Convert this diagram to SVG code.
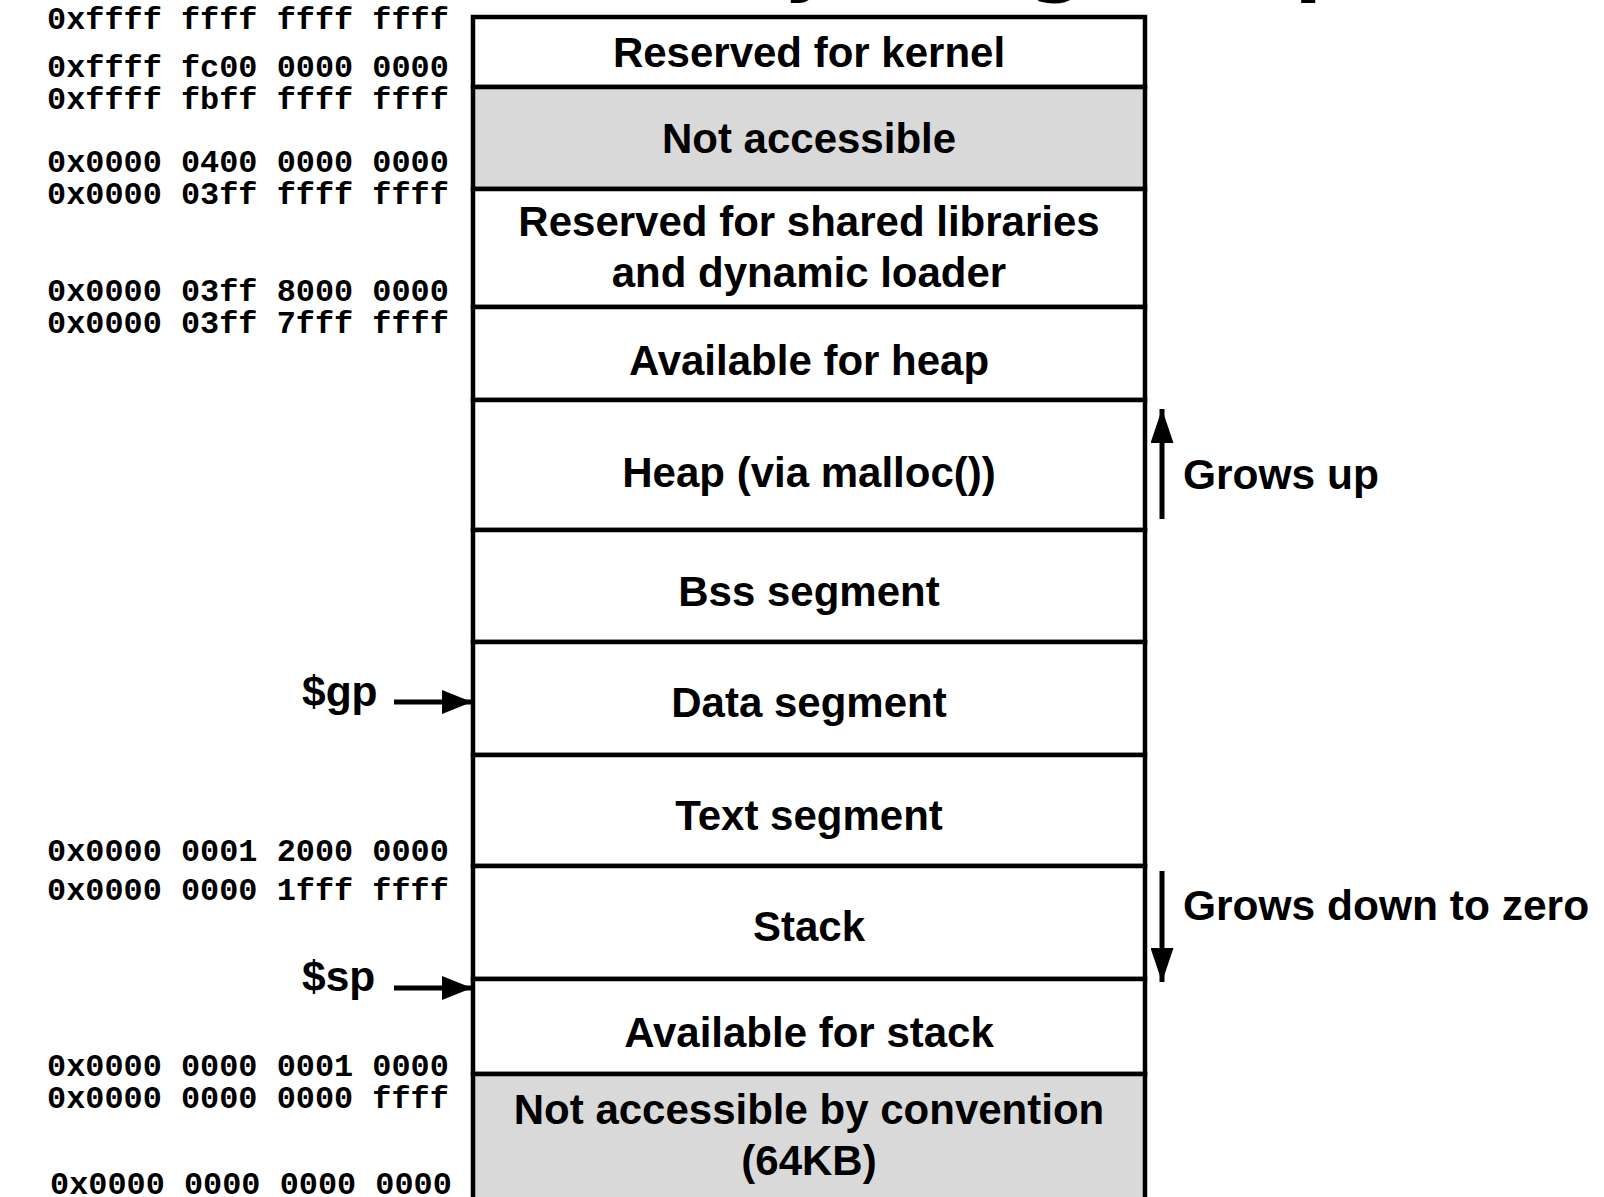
<svg xmlns="http://www.w3.org/2000/svg" width="1604" height="1197" viewBox="0 0 1604 1197">
  <style>
    .seg { fill: #ffffff; stroke: #000000; stroke-width: 4.5; }
    .grey { fill: #d9d9d9; }
    .lbl { font-family: "Liberation Sans", Arial, sans-serif; font-weight: bold; font-size: 42px; fill: #000000; text-anchor: middle; }
    .side { font-family: "Liberation Sans", Arial, sans-serif; font-weight: bold; font-size: 42.5px; fill: #000000; }
    .addr { font-family: "Liberation Mono", "Courier New", monospace; font-weight: bold; font-size: 31.9px; fill: #000000; white-space: pre; }
    .title { font-family: "DejaVu Sans", Verdana, sans-serif; font-weight: bold; font-size: 80px; fill: #000000; }
    .wire { stroke: #000000; stroke-width: 5; fill: none; }
  </style>
  <defs>
    <!-- pointer head: 30 long, 24 wide at a 5px stroke -->
    <marker id="head" viewBox="0 0 10 10" refX="10" refY="5" markerWidth="6" markerHeight="4.8" markerUnits="strokeWidth" orient="auto" preserveAspectRatio="none">
      <path d="M0,0 L10,5 L0,10 Z" fill="#000000"/>
    </marker>
    <!-- growth arrow head: 34 long, 23 wide -->
    <marker id="grow" viewBox="0 0 10 10" refX="10" refY="5" markerWidth="6.8" markerHeight="4.6" markerUnits="strokeWidth" orient="auto" preserveAspectRatio="none">
      <path d="M0,0 L10,5 L0,10 Z" fill="#000000"/>
    </marker>
  </defs>

  <rect x="0" y="0" width="1604" height="1197" fill="#ffffff"/>

  <!-- slide title, mostly above the top edge -->
  <text class="title" x="471" y="-14">Memory Usage (Alpha)</text>

  <!-- address column -->
  <g id="addresses">
    <text class="addr" x="47" y="29">0xffff ffff ffff ffff</text>
    <text class="addr" x="47" y="77">0xffff fc00 0000 0000</text>
    <text class="addr" x="47" y="109">0xffff fbff ffff ffff</text>
    <text class="addr" x="47" y="172">0x0000 0400 0000 0000</text>
    <text class="addr" x="47" y="204">0x0000 03ff ffff ffff</text>
    <text class="addr" x="47" y="301">0x0000 03ff 8000 0000</text>
    <text class="addr" x="47" y="333">0x0000 03ff 7fff ffff</text>
    <text class="addr" x="47" y="861">0x0000 0001 2000 0000</text>
    <text class="addr" x="47" y="900">0x0000 0000 1fff ffff</text>
    <text class="addr" x="47" y="1076">0x0000 0000 0001 0000</text>
    <text class="addr" x="47" y="1108">0x0000 0000 0000 ffff</text>
    <text class="addr" x="50" y="1194">0x0000 0000 0000 0000</text>
  </g>

  <!-- memory segments, top to bottom -->
  <g id="kernel">
    <rect class="seg" x="473" y="17" width="672" height="70"/>
    <text class="lbl" x="809" y="67">Reserved for kernel</text>
  </g>
  <g id="not-accessible">
    <rect class="seg grey" x="473" y="87" width="672" height="102"/>
    <text class="lbl" x="809" y="153">Not accessible</text>
  </g>
  <g id="shared-libs">
    <rect class="seg" x="473" y="189" width="672" height="118"/>
    <text class="lbl" x="809" y="236">Reserved for shared libraries</text>
    <text class="lbl" x="809" y="287">and dynamic loader</text>
  </g>
  <g id="heap-free">
    <rect class="seg" x="473" y="307" width="672" height="93"/>
    <text class="lbl" x="809" y="375">Available for heap</text>
  </g>
  <g id="heap">
    <rect class="seg" x="473" y="400" width="672" height="130"/>
    <text class="lbl" x="809" y="487">Heap (via malloc())</text>
  </g>
  <g id="bss">
    <rect class="seg" x="473" y="530" width="672" height="112"/>
    <text class="lbl" x="809" y="606">Bss segment</text>
  </g>
  <g id="data">
    <rect class="seg" x="473" y="642" width="672" height="113"/>
    <text class="lbl" x="809" y="717">Data segment</text>
  </g>
  <g id="text">
    <rect class="seg" x="473" y="755" width="672" height="111"/>
    <text class="lbl" x="809" y="830">Text segment</text>
  </g>
  <g id="stack">
    <rect class="seg" x="473" y="866" width="672" height="113"/>
    <text class="lbl" x="809" y="941">Stack</text>
  </g>
  <g id="stack-free">
    <rect class="seg" x="473" y="979" width="672" height="95"/>
    <text class="lbl" x="809" y="1047">Available for stack</text>
  </g>
  <g id="reserved-low">
    <rect class="seg grey" x="473" y="1074" width="672" height="130"/>
    <text class="lbl" x="809" y="1124">Not accessible by convention</text>
    <text class="lbl" x="809" y="1175">(64KB)</text>
  </g>

  <!-- register pointers and growth directions -->
  <g id="gp-label"><text class="side" x="302" y="706">$gp</text></g>
  <g id="sp-label"><text class="side" x="302" y="991">$sp</text></g>
  <g id="grows-up-label"><text class="side" x="1183" y="489">Grows up</text></g>
  <g id="grows-down-label"><text class="side" x="1183" y="920">Grows down to zero</text></g>

  <g id="connectors">
    <line class="wire" x1="394" y1="702" x2="472" y2="702" marker-end="url(#head)"/>
    <line class="wire" x1="394" y1="988" x2="472" y2="988" marker-end="url(#head)"/>
    <line class="wire" x1="1162" y1="519" x2="1162" y2="409" marker-end="url(#grow)"/>
    <line class="wire" x1="1162" y1="871" x2="1162" y2="982" marker-end="url(#grow)"/>
  </g>
</svg>
